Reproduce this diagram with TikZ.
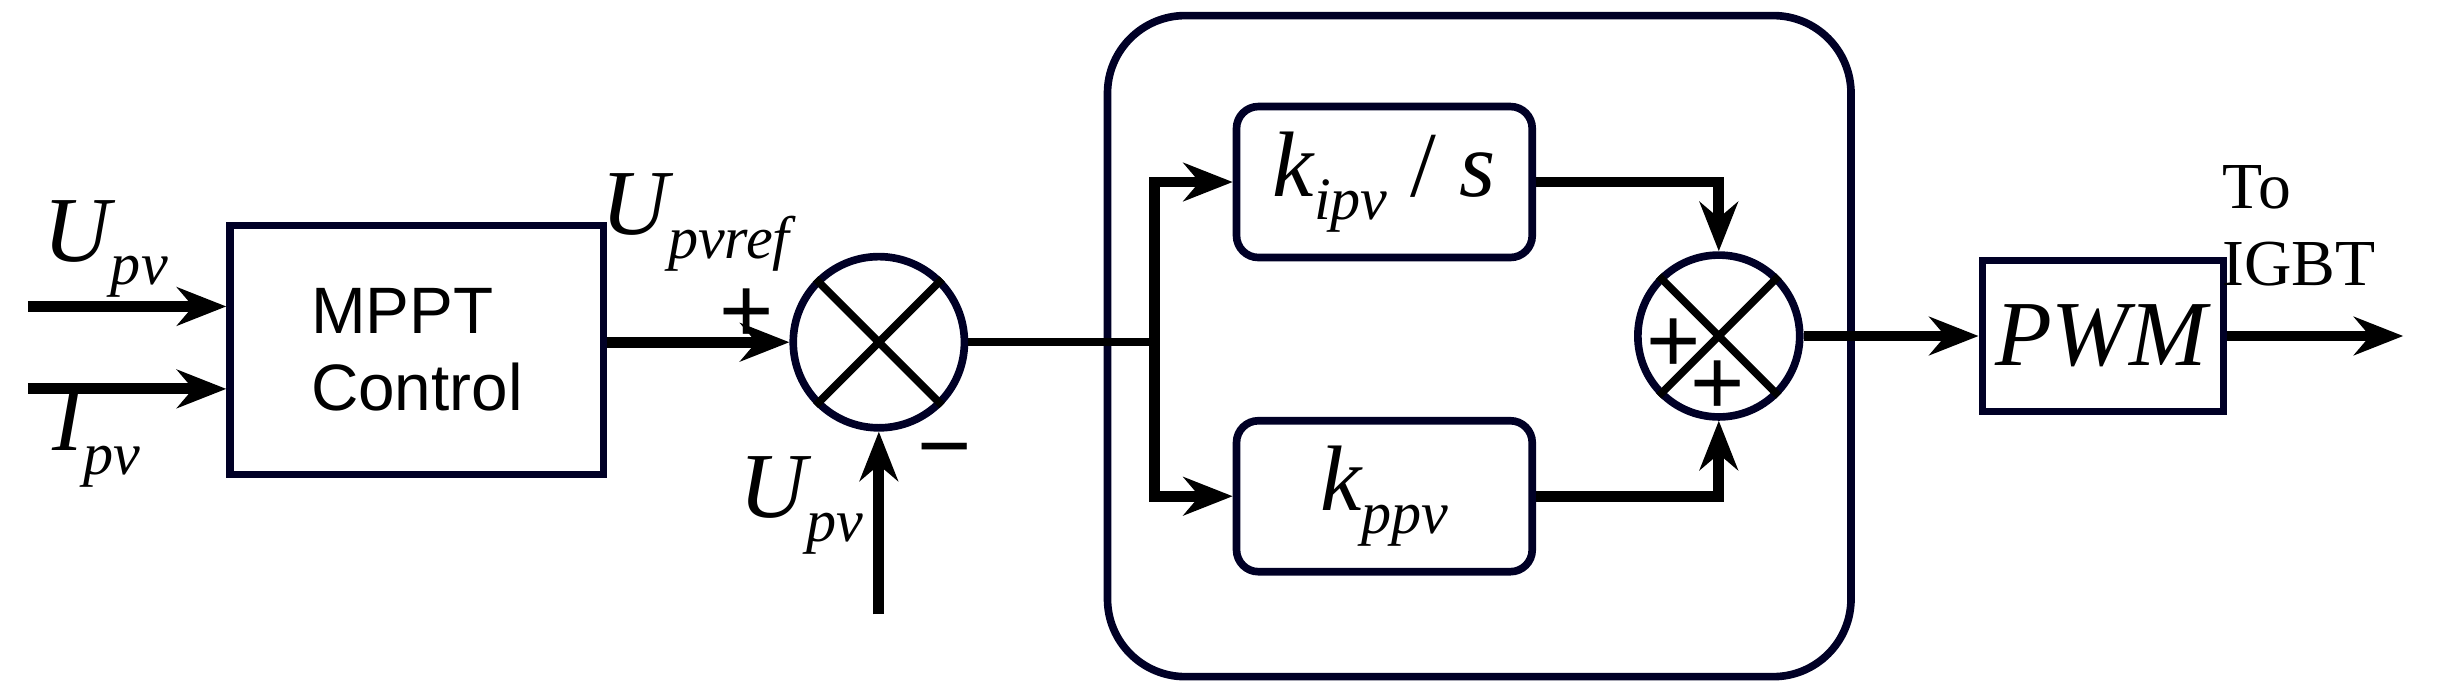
\documentclass[tikz,border=0pt]{standalone}
\usepackage{fontspec}
\setmainfont{Liberation Serif}
\newfontfamily\sans{Liberation Sans}
\usetikzlibrary{arrows.meta}
\newcommand{\vv}[2]{{\itshape #1\raisebox{-0.55ex}{\fontsize{11}{11}\selectfont #2}}}
\begin{document}
\begin{tikzpicture}[x=0.01cm,y=-0.01cm,
 blk/.style={draw=black!85!blue,line width=1.4pt,inner sep=0},
 arr/.style={line width=2pt,-{Stealth[length=9pt,width=7pt]}},
 ln/.style={line width=1.4pt},
 lab/.style={font=\fontsize{17}{17}\selectfont},
 pm/.style={font=\sans\fontsize{17}{17}\selectfont}]
\useasboundingbox (0,0) rectangle (1568,447);
\draw[blk,rounded corners=0.5cm] (712,10) rectangle (1190,435);
\node[blk,minimum width=2.4cm,minimum height=1.6cm,font=\sans\fontsize{12}{14}\selectfont,align=left] (mppt) at (268,225) {MPPT\\Control};
\node[blk,minimum width=1.9cm,minimum height=0.97cm,rounded corners=4pt,lab] (ki) at (890,117) {\vv{k}{ipv} / \textit{s}};
\node[blk,minimum width=1.9cm,minimum height=0.97cm,rounded corners=4pt,lab] (kp) at (890,319) {\vv{k}{ppv}};
\node[blk,minimum width=1.55cm,minimum height=0.97cm,lab] (pwm) at (1352,216) {\textit{PWM}};
\node[blk,circle,minimum size=1.1cm] (s1) at (565,220) {};
\node[blk,circle,minimum size=1.04cm] (s2) at (1105,216) {};
\draw[ln] (s1.north east)--(s1.south west) (s1.north west)--(s1.south east);
\draw[ln] (s2.north east)--(s2.south west) (s2.north west)--(s2.south east);
\coordinate (i1) at (18,197); \coordinate (i2) at (18,250);
\draw[arr] (i1) -- (mppt.west|-i1);
\draw[arr] (i2) -- (mppt.west|-i2);
\node[lab] at (68,160) {\vv{U}{pv}};
\node[lab] at (62,282) {\vv{I}{pv}};
\draw[arr] (mppt.east|-s1) -- (s1.west);
\node[lab] at (447,143) {\vv{U}{pvref}};
\node[pm] at (480,203) {+};
\coordinate (b1) at (565,395);
\draw[arr] (b1) -- (s1.south);
\node[lab] at (515,325) {\vv{U}{pv}};
\node[pm] at (607,296) {−};
\coordinate (br) at (742,220);
\draw[ln] (s1.east) -- (br);
\draw[arr] (br) |- (ki.west);
\draw[arr] (br) |- (kp.west);
\draw[arr] (ki.east) -| (s2.north);
\draw[arr] (kp.east) -| (s2.south);
\node[pm] at (1076,222) {+};
\node[pm] at (1104,249) {+};
\draw[arr] (s2.east) -- (pwm.west);
\coordinate (out) at (1545,216);
\draw[arr] (pwm.east) -- (out);
\node[font=\fontsize{12}{14}\selectfont,align=left] at (1478,145) {To\\IGBT};
\end{tikzpicture}
\end{document}
